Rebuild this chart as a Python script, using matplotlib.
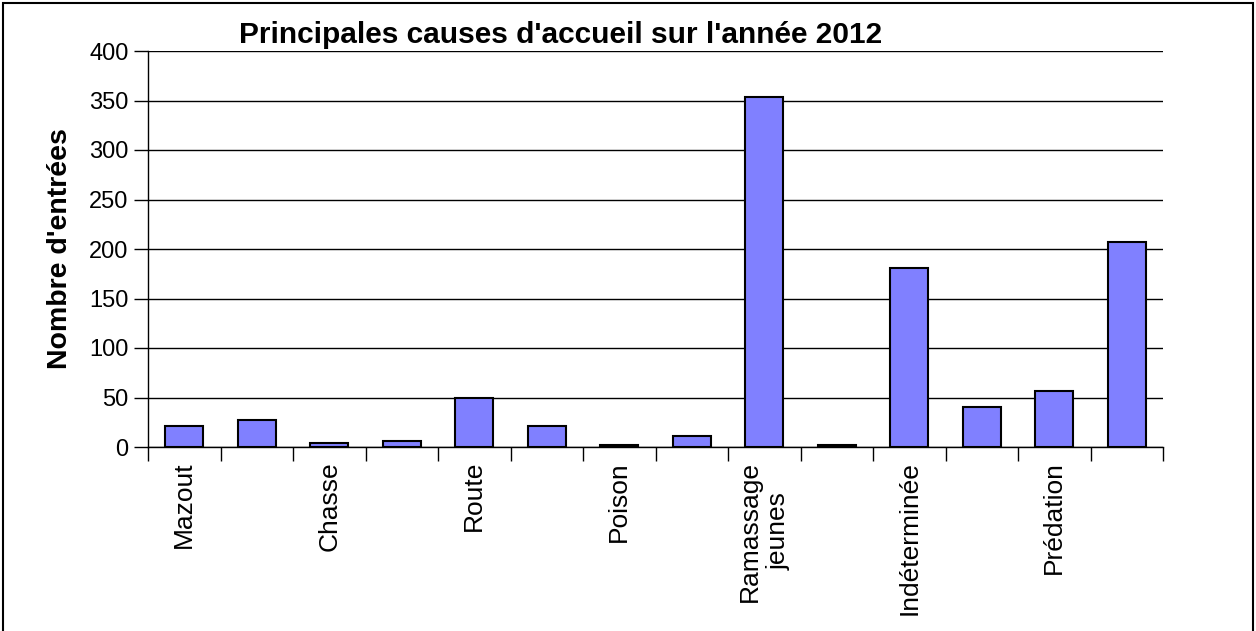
import numpy as np
import matplotlib.pyplot as plt
import matplotlib as mpl

# données
causes = ["Mazout", "", "Chasse", "", "Route", "", "Poison", "",
          "Ramassage\njeunes", "", "Indéterminée", "", "Prédation", ""]
entrees = [21, 27, 4, 6, 50, 21, 2, 11, 354, 2, 181, 40, 57, 207]
yticks = [0, 50, 100, 150, 200, 250, 300, 350, 400]

mpl.rcParams['font.family'] = ['Liberation Sans', 'DejaVu Sans']

fig = plt.figure(figsize=(12.56, 6.31), dpi=100)
ax = fig.add_axes([148 / 1256, 1 - 447 / 631, (1163 - 148) / 1256, (447 - 51) / 631])

x = np.arange(len(entrees))
ax.bar(x, entrees, width=0.52, color='#8080FF', edgecolor='black', linewidth=1.5, zorder=3)

# quadrillage horizontal
ax.set_ylim(0, 400)
ax.set_yticks(yticks)
ax.set_yticklabels([str(v) for v in yticks], fontsize=17)
ax.grid(axis='y', color='black', linewidth=1, zorder=0)
ax.tick_params(axis='y', direction='out', length=10, width=1, pad=4)

# graduations entre les catégories, libellés au centre
ax.set_xlim(-0.5, len(entrees) - 0.5)
ax.set_xticks(x)
ax.set_xticklabels(causes, rotation=90, fontsize=19, ha='center', va='top',
                   multialignment='center', linespacing=1.3)
ax.tick_params(axis='x', which='major', length=0, pad=10)
ax.set_xticks(np.arange(-0.5, len(entrees)), minor=True)
ax.tick_params(axis='x', which='minor', direction='out', length=10, width=1)

for side in ['top', 'right']:
    ax.spines[side].set_visible(False)
ax.spines['left'].set_linewidth(1)
ax.spines['bottom'].set_linewidth(1)

ax.set_ylabel("Nombre d'entrées", fontsize=20.5, fontweight='bold', labelpad=12)

fig.text(561 / 1256, 1 - 35 / 631, "Principales causes d'accueil sur l'année 2012",
         ha='center', va='center', fontsize=21.5, fontweight='bold')

# cadre du graphique
fig.add_artist(plt.Rectangle((3 / 1256, -0.01), 1250 / 1256, 1 - 3 / 631 + 0.01,
                             transform=fig.transFigure, fill=False,
                             edgecolor='black', linewidth=1.5))

fig.savefig('out.png', dpi=100)
